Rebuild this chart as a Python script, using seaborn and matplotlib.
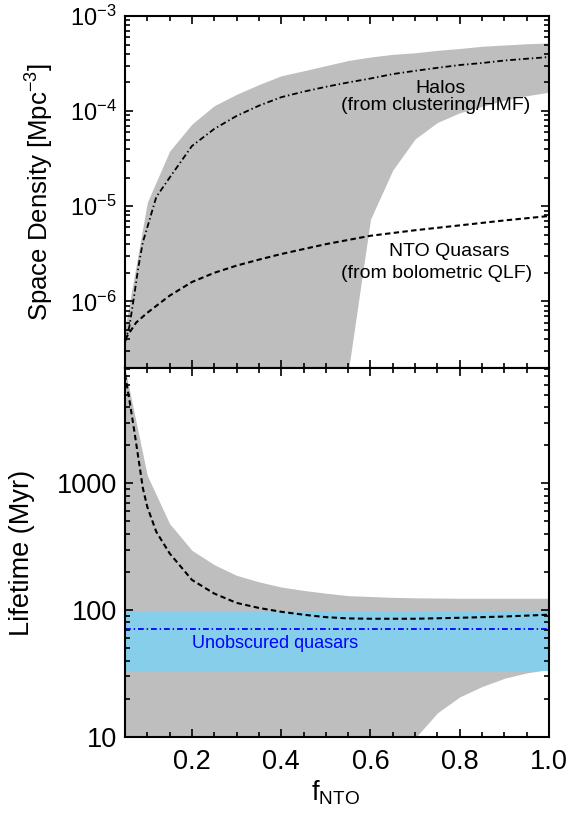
import numpy as np
import pandas as pd
import matplotlib
matplotlib.use("Agg")
import matplotlib.pyplot as plt
import seaborn as sns
from matplotlib.ticker import FixedLocator, MultipleLocator, NullFormatter, FixedFormatter, LogLocator

# ---------------- data ----------------
band_f = [0.05, 0.10, 0.15, 0.20, 0.25, 0.30, 0.35, 0.40, 0.45, 0.50,
          0.55, 0.60, 0.65, 0.70, 0.75, 0.80, 0.85, 0.90, 0.95, 1.00]
density_hi = [5.2e-7, 1.1e-5, 3.8e-5, 7.3e-5, 1.14e-4, 1.5e-4, 1.9e-4, 2.35e-4, 2.65e-4, 3.0e-4,
              3.4e-4, 3.7e-4, 3.95e-4, 4.1e-4, 4.35e-4, 4.55e-4, 4.8e-4, 4.95e-4, 5.1e-4, 5.2e-4]
density_lo = [1e-9, 1e-9, 1e-9, 1e-9, 1e-9, 1e-9, 1e-9, 1e-9, 1e-9, 1e-9,
              1.8e-7, 7.3e-6, 2.4e-5, 5.1e-5, 7.6e-5, 9.6e-5, 1.12e-4, 1.3e-4, 1.45e-4, 1.58e-4]

halo_f = [0.05, 0.06, 0.07, 0.08, 0.09, 0.10, 0.12, 0.15, 0.20, 0.25, 0.30, 0.35, 0.40, 0.45,
          0.50, 0.55, 0.60, 0.65, 0.70, 0.75, 0.80, 0.85, 0.90, 0.95, 1.00]
halo_density = [3.7e-7, 5.5e-7, 1.1e-6, 2.3e-6, 4.2e-6, 6.0e-6, 1.25e-5, 2.0e-5, 4.3e-5, 6.5e-5,
                8.9e-5, 1.14e-4, 1.4e-4, 1.6e-4, 1.8e-4, 2.0e-4, 2.2e-4, 2.45e-4, 2.65e-4,
                2.85e-4, 3.05e-4, 3.2e-4, 3.4e-4, 3.55e-4, 3.7e-4]

nto_f = [0.05, 0.075, 0.10, 0.15, 0.20, 0.25, 0.30, 0.35, 0.40, 0.50, 0.60, 0.70, 0.80, 0.90, 1.00]
nto_density = [4.0e-7, 6.0e-7, 7.6e-7, 1.15e-6, 1.6e-6, 2.0e-6, 2.38e-6, 2.75e-6, 3.15e-6,
               4.0e-6, 4.9e-6, 5.6e-6, 6.3e-6, 7.1e-6, 7.9e-6]

lifetime_hi = [8000, 1150, 480, 296, 228, 188, 167, 152, 143, 136,
               130, 128, 126, 125, 124.5, 124, 124, 124, 124, 124]
lifetime_lo = [1, 1, 1, 1, 1, 1, 1, 1, 1, 1,
               1, 1, 3, 9.8, 15.5, 20.7, 25, 29, 32, 34]

life_f = [0.05, 0.06, 0.07, 0.08, 0.09, 0.10, 0.12, 0.15, 0.20, 0.25, 0.30, 0.35, 0.40,
          0.45, 0.50, 0.55, 0.60, 0.70, 0.80, 0.90, 1.00]
life_nto = [7200, 4500, 2700, 1580, 915, 650, 415, 280, 173, 135, 114, 104, 97,
            92, 88, 86, 85.5, 85.5, 87, 89, 92]

unobs_lifetime = 70.5
unobs_lo = 33
unobs_hi = 98

# ---------------- style ----------------
sns.set_theme(style="ticks")
plt.rcParams["font.family"] = ["Liberation Sans", "DejaVu Sans"]
plt.rcParams["mathtext.fontset"] = "custom"
plt.rcParams["mathtext.rm"] = "Liberation Sans"
plt.rcParams["mathtext.it"] = "Liberation Sans:italic"
plt.rcParams["mathtext.bf"] = "Liberation Sans:bold"
plt.rcParams["axes.unicode_minus"] = True
plt.rcParams["text.color"] = "black"
plt.rcParams["axes.labelcolor"] = "black"
plt.rcParams["xtick.color"] = "black"
plt.rcParams["ytick.color"] = "black"
plt.rcParams["xtick.labelcolor"] = "black"
plt.rcParams["ytick.labelcolor"] = "black"

GRAY = "#bebebe"
SKY = "#87ceeb"

fig = plt.figure(figsize=(5.71, 8.13), dpi=100)
ax1 = fig.add_axes([0.2189, 0.5474, 0.7426, 0.4330])
ax2 = fig.add_axes([0.2189, 0.0935, 0.7426, 0.4539])

df_band = pd.DataFrame({"f": band_f, "dhi": density_hi, "dlo": density_lo,
                        "lhi": lifetime_hi, "llo": lifetime_lo})
df_halo = pd.DataFrame({"f": halo_f, "v": halo_density})
df_nto = pd.DataFrame({"f": nto_f, "v": nto_density})
df_life = pd.DataFrame({"f": life_f, "v": life_nto})

for ax in (ax1, ax2):
    ax.set_yscale("log")
    ax.set_xlim(0.05, 1.0)
    ax.set_axisbelow(False)
    for sp in ax.spines.values():
        sp.set_linewidth(1.5)
        sp.set_color("black")
        sp.set_zorder(5)
    ax.xaxis.set_major_locator(FixedLocator([0.2, 0.4, 0.6, 0.8, 1.0]))
    ax.xaxis.set_minor_locator(MultipleLocator(0.05))
    ax.tick_params(which="both", direction="in", top=True, right=True,
                   color="black", labelcolor="black", width=1.2)
    ax.tick_params(which="major", length=6)
    ax.tick_params(which="minor", length=3.5)

# ---------------- top panel ----------------
ax1.fill_between(df_band["f"], df_band["dlo"], df_band["dhi"], color=GRAY, lw=0, zorder=1)
sns.lineplot(data=df_halo, x="f", y="v", ax=ax1, color="black", lw=1.3,
             estimator=None, sort=False, zorder=3)
ax1.lines[-1].set_dashes([3.2, 1.6, 0.8, 1.6])
sns.lineplot(data=df_nto, x="f", y="v", ax=ax1, color="black", lw=1.5,
             estimator=None, sort=False, zorder=3)
ax1.lines[-1].set_dashes([2.6, 1.6])
ax1.set_ylim(2e-7, 1e-3)
ax1.yaxis.set_major_locator(LogLocator(base=10, numticks=20))
ax1.yaxis.set_minor_locator(LogLocator(base=10, subs=np.arange(2, 10), numticks=20))
ax1.yaxis.set_minor_formatter(NullFormatter())
ax1.tick_params(axis="x", labelbottom=False)
ax1.tick_params(axis="y", labelsize=17, pad=6)
ax1.set_xlabel("")
ax1.set_ylabel("")

ax1.text(0.745, 0.781, "Halos", transform=ax1.transAxes, ha="center", va="baseline",
         fontsize=14, zorder=6)
ax1.text(0.733, 0.733, "(from clustering/HMF)", transform=ax1.transAxes, ha="center",
         va="baseline", fontsize=14, zorder=6)
ax1.text(0.764, 0.318, "NTO Quasars", transform=ax1.transAxes, ha="center", va="baseline",
         fontsize=14, zorder=6)
ax1.text(0.735, 0.256, "(from bolometric QLF)", transform=ax1.transAxes, ha="center",
         va="baseline", fontsize=14, zorder=6)

# ---------------- bottom panel ----------------
ax2.fill_between(df_band["f"], df_band["llo"], df_band["lhi"], color=GRAY, lw=0, zorder=1)
ax2.axhspan(unobs_lo, unobs_hi, color=SKY, lw=0, zorder=2)
ax2.axhline(unobs_lifetime, color="blue", lw=1.3, dashes=[3.2, 1.6, 0.8, 1.6], zorder=3)
sns.lineplot(data=df_life, x="f", y="v", ax=ax2, color="black", lw=1.5,
             estimator=None, sort=False, zorder=4)
ax2.lines[-1].set_dashes([2.6, 1.6])
ax2.set_ylim(10, 8100)
ax2.yaxis.set_major_locator(FixedLocator([10, 100, 1000]))
ax2.yaxis.set_major_formatter(FixedFormatter(["10", "100", "1000"]))
ax2.yaxis.set_minor_locator(LogLocator(base=10, subs=np.arange(2, 10), numticks=20))
ax2.yaxis.set_minor_formatter(NullFormatter())
ax2.xaxis.set_major_formatter(FixedFormatter(["0.2", "0.4", "0.6", "0.8", "1.0"]))
ax2.tick_params(axis="both", labelsize=19.5)
ax2.tick_params(axis="x", pad=9)
ax2.tick_params(axis="y", pad=6)
ax2.set_xlabel("")
ax2.set_ylabel("")
ax2.text(0.157, 0.241, "Unobscured quasars", transform=ax2.transAxes, ha="left",
         va="baseline", fontsize=13, color="blue", zorder=6)

# ---------------- axis titles ----------------
fig.text(0.070, 0.764, "Space Density [Mpc$^{-3}$]", rotation=90, ha="center",
         va="center", fontsize=18.5)
fig.text(0.0394, 0.3198, "Lifetime (Myr)", rotation=90, ha="center", va="center",
         fontsize=19.5)
fig.text(0.588, 0.0246, r"f$_{\mathrm{NTO}}$", ha="center", va="center", fontsize=19.5)

fig.savefig("out.png", dpi=100)
